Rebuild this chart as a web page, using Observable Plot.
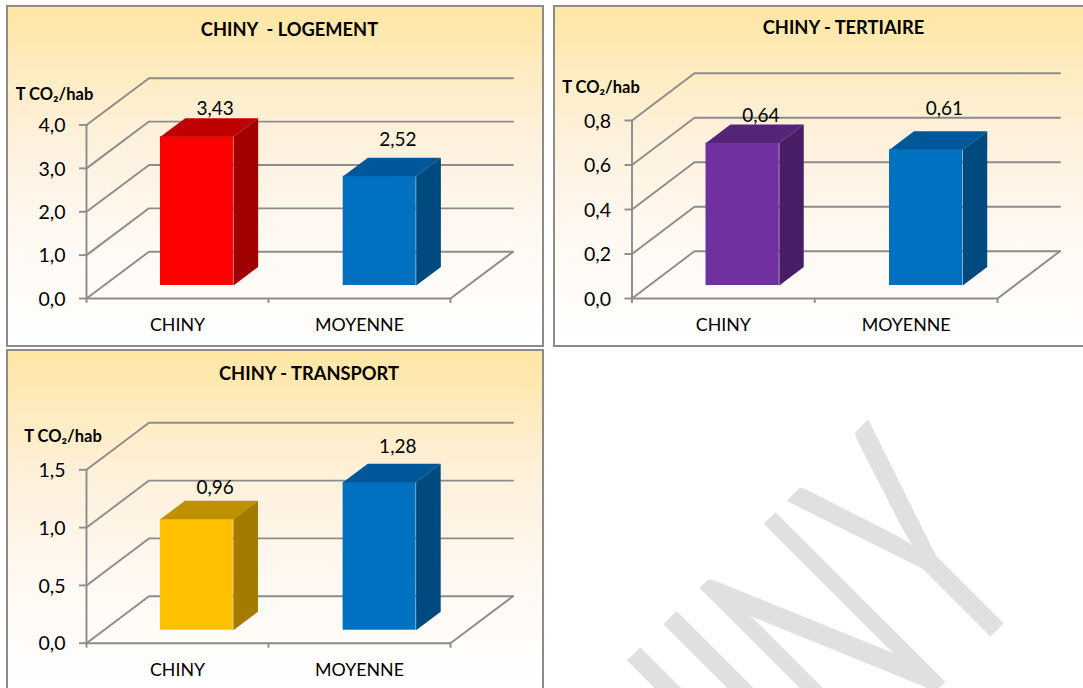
<!DOCTYPE html>
<html><head><meta charset="utf-8">
<script src="https://cdn.jsdelivr.net/npm/d3@7"></script>
<script src="https://cdn.jsdelivr.net/npm/@observablehq/plot@0.6"></script>
<style>
html,body{margin:0;padding:0;background:#fff;overflow:hidden}
#page{position:relative;width:1083px;height:688px;overflow:hidden;font-family:Lato,"Noto Sans",sans-serif;color:#000}
.panel{position:absolute;box-sizing:border-box;border:2px solid #8c8c8c;background:linear-gradient(to bottom,#ffe6a3 0%,#fef0d8 35%,#fff8f0 65%,#ffffff 100%)}
.panel svg{position:absolute;background:transparent;overflow:visible}
.t{position:absolute;font-weight:700;white-space:pre;transform:translate(-50%,-50%);line-height:1}
#wm{position:absolute;left:0;top:0}
</style></head><body><div id="page"></div>
<script>
const categories = ["CHINY", "MOYENNE"];
const logementValues = [3.43, 2.52];
const tertiaireValues = [0.64, 0.61];
const transportValues = [0.96, 1.28];
const logementTicks = [0, 1, 2, 3, 4];
const tertiaireTicks = [0, 0.2, 0.4, 0.6, 0.8];
const transportTicks = [0, 0.5, 1, 1.5];
const titles = ["CHINY  - LOGEMENT", "CHINY - TERTIAIRE", "CHINY - TRANSPORT"];
const unit = "T CO₂/hab";
const red = ["#ff0000", "#bf0000", "#a00000"];
const blue = ["#0070c0", "#00589a", "#004a80"];
const purple = ["#7030a0", "#542478", "#471e66"];
const amber = ["#ffc000", "#bf9000", "#a37b00"];
const GRID = "#8c8c8c";
const fr = d3.format(".1f"), fr2 = d3.format(".2f");
const comma = s => s.replace(".", ",");

const panels = [
 {box:[6,5,538,342], x0:86,x2:450,yb:298,yt:124.5,depth:46.8,max:4,ticks:logementTicks,values:logementValues,pal:[red,blue],title:titles[0],tp:[289.5,29],up:[54.5,94],ldy:[-9,-18]},
 {box:[553,5,540,342], x0:631.5,x2:997,yb:298,yt:120,depth:47.3,max:0.8,ticks:tertiaireTicks,values:tertiaireValues,pal:[purple,blue],title:titles[1],tp:[843.5,27],up:[601,87],ldy:[-9,-22]},
 {box:[6,349,538,342], x0:86,x2:450,yb:642.7,yt:469.3,depth:47,max:1.5,ticks:transportTicks,values:transportValues,pal:[amber,blue],title:titles[2],tp:[309,373],up:[63,436],ldy:[-13,-17]}
];
const page = document.getElementById("page");

// watermark
const wm = d3.select(page).append("svg").attr("id","wm").attr("width",1083).attr("height",688);
wm.append("text").text("CHINY")
 .attr("transform","translate(1037,589) rotate(-45) scale(0.55,1)")
 .attr("text-anchor","end").attr("font-family","Lato").attr("font-size",333)
 .attr("fill","#e0e0e0").attr("stroke","#e0e0e0").attr("stroke-width",1.5).attr("stroke-linejoin","round");

for (const p of panels) {
  const [bx,by,bw,bh] = p.box;
  const div = d3.select(page).append("div").attr("class","panel")
    .style("left",bx+"px").style("top",by+"px").style("width",bw+"px").style("height",bh+"px");
  const W = bw-4, H = bh-4, ox = bx+2, oy = by+2;
  const unitX = (p.x2-p.x0)/2, pxPerV = (p.yb-p.yt)/p.max;
  const dxU = 62.5/unitX, dyU = p.depth/pxPerV;
  const d1 = 13/p.depth, d2 = 31.5/p.depth, bw_ = 0.401, off = 0.311;

  const grid = [];
  p.ticks.forEach((t,i)=>{
    grid.push({k:i,x:0,y:t},{k:i,x:dxU,y:t+dyU},{k:i,x:2+dxU,y:t+dyU});
  });
  grid.push({k:"wall",x:0,y:0},{k:"wall",x:0,y:p.max});
  grid.push({k:"floor",x:0,y:0},{k:"floor",x:2,y:0},{k:"floor",x:2+dxU,y:dyU});

  const rows = p.values.map((v,i)=>{
    const xa = i*1.004+off+d1*dxU, xb = xa+bw_, base = d1*dyU;
    return {i,v,cat:categories[i],xa,xb,base,top:base+v,ddx:(d2-d1)*dxU,ddy:(d2-d1)*dyU,pal:p.pal[i]};
  });
  const tops = rows.flatMap(r=>[[r.xa,r.top],[r.xa+r.ddx,r.top+r.ddy],[r.xb+r.ddx,r.top+r.ddy],[r.xb,r.top]].map(([x,y])=>({k:r.i,x,y,c:r.pal[1]})));
  const sides = rows.flatMap(r=>[[r.xb,r.base],[r.xb+r.ddx,r.base+r.ddy],[r.xb+r.ddx,r.top+r.ddy],[r.xb,r.top]].map(([x,y])=>({k:r.i,x,y,c:r.pal[2]})));

  const chart = Plot.plot({
    width:W, height:H,
    marginLeft:p.x0-ox, marginRight:ox+W-p.x2, marginTop:p.yt-oy, marginBottom:oy+H-p.yb,
    x:{domain:[0,2]}, y:{domain:[0,p.max]}, color:{type:"identity"},
    style:{background:"transparent",overflow:"visible"},
    marks:[
      Plot.line(grid,{x:"x",y:"y",z:"k",stroke:GRID,strokeWidth:1.9}),
      Plot.axisY({ticks:p.ticks,tickSize:7,tickPadding:14,tickFormat:d=>comma(fr(d)),fontSize:19.5,fontFamily:"Lato",stroke:GRID,strokeWidth:1.9,strokeOpacity:1,fill:"#000",label:null}),
      Plot.axisX({ticks:[0,1,2],tickSize:5,tickFormat:()=>"",stroke:GRID,strokeWidth:1.9,strokeOpacity:1,label:null}),
      Plot.axisX({ticks:[0.5,1.5],tickSize:0,tickPadding:20,tickFormat:d=>categories[d-0.5],fontSize:17.8,fontFamily:"Lato",fill:"#000",label:null}),
      Plot.rect(rows,{x1:"xa",x2:"xb",y1:"base",y2:"top",fill:r=>r.pal[0],inset:0}),
      Plot.line(tops,{x:"x",y:"y",z:"k",fill:"c",stroke:"none"}),
      Plot.line(sides,{x:"x",y:"y",z:"k",fill:"c",stroke:"none"}),
      Plot.text(rows,{x:r=>r.xa+bw_/2+0.1,y:r=>r.top+r.ddy,dy:(p.ldy[0]),text:r=>comma(fr2(r.v)),fontSize:19,fontFamily:"Lato",fill:"#000",filter:r=>r.i===0}),
      Plot.text(rows,{x:r=>r.xa+bw_/2+0.1,y:r=>r.top+r.ddy,dy:(p.ldy[1]),text:r=>comma(fr2(r.v)),fontSize:19,fontFamily:"Lato",fill:"#000",filter:r=>r.i===1})
    ]
  });
  chart.style.left="0"; chart.style.top="0";
  d3.select(chart).selectAll('[aria-label="y-axis tick label"] text').attr("transform",function(){const t=this.getAttribute("transform")||"";return t+" translate(0,1)";});
  div.node().appendChild(chart);
  div.append("div").attr("class","t").style("left",(p.tp[0]-ox)+"px").style("top",(p.tp[1]-oy)+"px").style("font-size","18.3px").text(p.title);
  div.append("div").attr("class","t").style("left",(p.up[0]-ox)+"px").style("top",(p.up[1]-oy)+"px").style("font-size","16.5px").text(unit);
}
</script></body></html>
